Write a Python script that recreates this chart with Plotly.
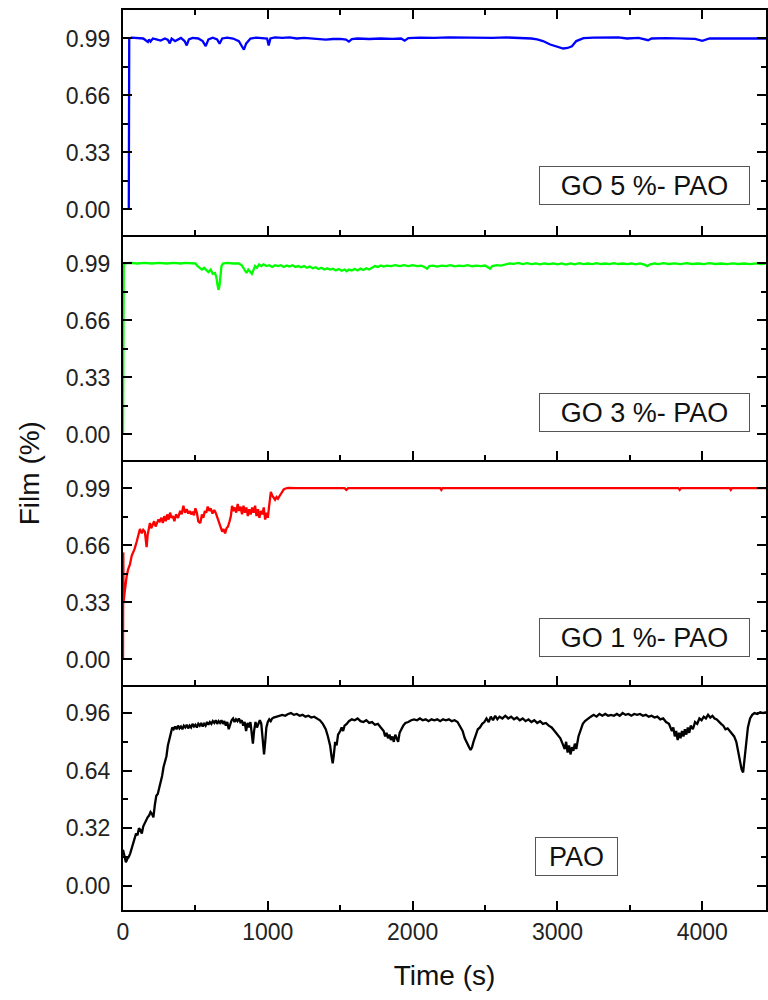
import plotly.graph_objects as go
from plotly.subplots import make_subplots

# ---------------- data ----------------
t_go5 = [40, 43, 60, 100, 140, 172, 180, 190, 206, 230, 260, 290, 310, 323, 336, 360, 400, 425, 440, 455,
         480, 520, 550, 571, 590, 620, 650, 667, 685, 720, 760, 800, 820, 835, 850, 880, 920, 960, 995, 1006,
         1018, 1050, 1100, 1150, 1200, 1250, 1300, 1350, 1400, 1450, 1500, 1540, 1560, 1580, 1620, 1700, 1780,
         1860, 1920, 1945, 1970, 2050, 2150, 2250, 2350, 2450, 2550, 2650, 2750, 2820, 2860, 2900, 2950, 3000,
         3040, 3070, 3100, 3130, 3180, 3250, 3350, 3420, 3480, 3560, 3626, 3650, 3750, 3850, 3950, 4000, 4050,
         4150, 4250, 4350, 4440]
y_go5 = [0.0, 0.99, 0.995, 0.993, 0.99, 0.97, 0.985, 0.972, 0.99, 0.985, 0.978, 0.99, 0.982, 0.962, 0.99, 0.975,
         0.993, 0.975, 0.95, 0.985, 0.993, 0.99, 0.975, 0.946, 0.985, 0.995, 0.985, 0.96, 0.99, 0.995, 0.99, 0.975,
         0.95, 0.925, 0.96, 0.99, 0.995, 0.993, 0.99, 0.95, 0.99, 0.996, 0.993, 0.996, 0.99, 0.994, 0.99, 0.986,
         0.984, 0.987, 0.988, 0.984, 0.972, 0.986, 0.99, 0.987, 0.99, 0.988, 0.99, 0.977, 0.992, 0.995, 0.993,
         0.996, 0.994, 0.996, 0.993, 0.996, 0.994, 0.99, 0.985, 0.975, 0.955, 0.94, 0.932, 0.935, 0.945, 0.975,
         0.992, 0.995, 0.993, 0.996, 0.99, 0.994, 0.98, 0.99, 0.992, 0.99, 0.988, 0.977, 0.99, 0.99, 0.99, 0.99, 0.99]

t_go3 = [0, 5, 50, 100, 150, 200, 250, 300, 350, 400, 430, 470, 500, 515, 530, 545, 560, 575, 590, 605, 620, 635,
         645, 652, 659, 666, 673, 680, 690, 720, 760, 800, 820, 840, 853, 865, 878, 890, 900, 912, 925, 940, 955,
         970, 990, 1010, 1030, 1050, 1070, 1090, 1110, 1130, 1150, 1170, 1190, 1210, 1230, 1250, 1270, 1290, 1310,
         1330, 1350, 1370, 1390, 1410, 1430, 1450, 1470, 1490, 1510, 1530, 1545, 1560, 1580, 1600, 1620, 1640,
         1660, 1680, 1700, 1720, 1740, 1760, 1780, 1800, 1820, 1850, 1880, 1910, 1940, 1970, 2000, 2030, 2060,
         2090, 2100, 2115, 2140, 2170, 2200, 2230, 2260, 2290, 2320, 2350, 2380, 2410, 2440, 2470, 2500, 2525,
         2535, 2550, 2580, 2610, 2640, 2670, 2700, 2730, 2760, 2790, 2820, 2850, 2880, 2910, 2940, 2970, 3000,
         3030, 3060, 3090, 3120, 3150, 3180, 3210, 3240, 3270, 3300, 3330, 3360, 3390, 3420, 3450, 3480, 3510,
         3540, 3570, 3600, 3620, 3640, 3670, 3700, 3730, 3770, 3810, 3850, 3890, 3930, 3970, 4010, 4050, 4090,
         4130, 4170, 4210, 4250, 4290, 4330, 4370, 4410, 4440]
y_go3 = [0.0, 0.99, 0.993, 0.99, 0.993, 0.99, 0.993, 0.99, 0.993, 0.99, 0.993, 0.99, 0.99, 0.975, 0.965, 0.955,
         0.965, 0.95, 0.94, 0.955, 0.93, 0.935, 0.91, 0.87, 0.837, 0.86, 0.93, 0.975, 0.99, 0.993, 0.99, 0.99, 0.98,
         0.95, 0.935, 0.955, 0.94, 0.93, 0.95, 0.975, 0.965, 0.985, 0.975, 0.985, 0.975, 0.98, 0.97, 0.98, 0.975,
         0.98, 0.97, 0.978, 0.972, 0.98, 0.97, 0.975, 0.968, 0.975, 0.965, 0.972, 0.962, 0.968, 0.958, 0.965,
         0.955, 0.962, 0.955, 0.96, 0.95, 0.958, 0.948, 0.955, 0.945, 0.955, 0.95, 0.958, 0.95, 0.96, 0.952,
         0.962, 0.955, 0.965, 0.975, 0.97, 0.978, 0.972, 0.978, 0.975, 0.98, 0.975, 0.98, 0.975, 0.98, 0.975,
         0.978, 0.965, 0.96, 0.975, 0.978, 0.972, 0.978, 0.975, 0.98, 0.973, 0.978, 0.975, 0.98, 0.974, 0.978,
         0.975, 0.978, 0.965, 0.96, 0.975, 0.98, 0.978, 0.985, 0.99, 0.988, 0.993, 0.987, 0.992, 0.986, 0.99,
         0.985, 0.99, 0.986, 0.99, 0.985, 0.99, 0.984, 0.99, 0.985, 0.992, 0.986, 0.99, 0.986, 0.992, 0.987,
         0.99, 0.986, 0.992, 0.987, 0.99, 0.986, 0.99, 0.985, 0.99, 0.983, 0.975, 0.985, 0.99, 0.986, 0.992,
         0.987, 0.991, 0.986, 0.992, 0.987, 0.99, 0.986, 0.992, 0.987, 0.99, 0.986, 0.991, 0.987, 0.99, 0.986,
         0.991, 0.987, 0.99, 0.99]

t_go1 = [0, 2, 4, 10, 18, 25, 35, 48, 60, 70, 80, 94, 105, 117, 130, 140, 151, 158, 163, 170, 178, 186, 195, 205,
         215, 225, 235, 245, 254, 265, 275, 285, 295, 305, 315, 325, 335, 345, 355, 366, 380, 395, 405, 417, 428,
         440, 450, 460, 470, 480, 490, 500, 510, 520, 534, 545, 555, 565, 575, 585, 595, 605, 618, 630, 640, 652,
         662, 672, 685, 695, 705, 715, 725, 736, 745, 753, 762, 772, 782, 792, 802, 812, 822, 832, 842, 852, 862,
         872, 882, 892, 902, 912, 922, 932, 942, 952, 962, 972, 982, 992, 1000, 1008, 1015, 1021, 1030, 1040, 1050,
         1060, 1070, 1080, 1090, 1100, 1110, 1122, 1140, 1200, 1300, 1400, 1530, 1542, 1555, 1700, 1900, 2100,
         2190, 2198, 2206, 2400, 2700, 3000, 3300, 3600, 3835, 3844, 3853, 4000, 4190, 4197, 4205, 4300, 4440]
y_go1 = [0.0, 0.62, 0.33, 0.38, 0.44, 0.48, 0.52, 0.55, 0.6, 0.62, 0.64, 0.68, 0.72, 0.755, 0.73, 0.75, 0.74, 0.66,
         0.65, 0.72, 0.76, 0.79, 0.76, 0.78, 0.8, 0.77, 0.79, 0.81, 0.8, 0.82, 0.79, 0.83, 0.8, 0.84, 0.81, 0.85,
         0.82, 0.83, 0.8, 0.84, 0.82, 0.86, 0.84, 0.89, 0.85, 0.87, 0.845, 0.86, 0.84, 0.855, 0.835, 0.875, 0.85,
         0.8, 0.79, 0.84, 0.82, 0.86, 0.85, 0.885, 0.86, 0.875, 0.845, 0.865, 0.85, 0.82, 0.8, 0.77, 0.74, 0.755,
         0.73, 0.76, 0.77, 0.8, 0.83, 0.89, 0.86, 0.88, 0.85, 0.9, 0.86, 0.885, 0.84, 0.89, 0.85, 0.88, 0.83, 0.87,
         0.84, 0.88, 0.85, 0.89, 0.83, 0.87, 0.82, 0.86, 0.84, 0.88, 0.81, 0.85, 0.82, 0.88, 0.94, 0.97, 0.95,
         0.94, 0.925, 0.94, 0.93, 0.945, 0.96, 0.975, 0.985, 0.99, 0.993, 0.992, 0.993, 0.992, 0.992, 0.982, 0.992,
         0.992, 0.993, 0.992, 0.992, 0.982, 0.992, 0.992, 0.993, 0.992, 0.993, 0.992, 0.992, 0.982, 0.992, 0.992,
         0.992, 0.982, 0.992, 0.992, 0.992]

t_pao = [0, 10, 20, 30, 40, 50, 60, 70, 80, 90, 100, 110, 120, 130, 140, 150, 160, 170, 180, 190, 200, 210, 220,
         230, 240, 250, 260, 270, 280, 290, 300, 310, 320, 330, 340, 350, 360, 370, 380, 390, 400, 410, 420, 430,
         440, 450, 460, 470, 480, 490, 500, 510, 520, 530, 540, 550, 560, 570, 580, 590, 600, 610, 620, 630, 640,
         650, 660, 670, 680, 690, 700, 710, 720, 730, 740, 750, 760, 770, 780, 790, 800, 810, 820, 830, 840, 850,
         860, 870, 880, 890, 897, 905, 915, 925, 935, 945, 955, 965, 974, 982, 990, 1000, 1010, 1020, 1030, 1040,
         1060, 1080, 1100, 1120, 1140, 1160, 1180, 1200, 1220, 1240, 1260, 1280, 1300, 1320, 1340, 1360, 1380,
         1400, 1415, 1430, 1440, 1448, 1455, 1465, 1475, 1485, 1500, 1510, 1520, 1530, 1545, 1560, 1580, 1600,
         1620, 1640, 1660, 1680, 1700, 1720, 1740, 1760, 1780, 1800, 1810, 1820, 1830, 1840, 1850, 1860, 1870,
         1880, 1890, 1900, 1910, 1920, 1935, 1950, 1970, 1990, 2010, 2030, 2050, 2070, 2090, 2110, 2130, 2150,
         2170, 2190, 2210, 2230, 2250, 2270, 2290, 2310, 2330, 2345, 2360, 2375, 2390, 2400, 2410, 2420, 2435,
         2450, 2465, 2480, 2495, 2510, 2525, 2540, 2555, 2570, 2585, 2600, 2620, 2640, 2660, 2680, 2700, 2720,
         2740, 2760, 2780, 2800, 2820, 2840, 2860, 2880, 2900, 2920, 2940, 2960, 2980, 3000, 3020, 3035, 3050,
         3060, 3070, 3080, 3090, 3100, 3110, 3120, 3130, 3145, 3160, 3175, 3190, 3210, 3230, 3250, 3270, 3290,
         3310, 3330, 3350, 3370, 3390, 3410, 3430, 3450, 3470, 3490, 3510, 3530, 3550, 3570, 3590, 3610, 3630,
         3650, 3670, 3690, 3710, 3730, 3750, 3770, 3790, 3800, 3810, 3820, 3830, 3840, 3850, 3860, 3870, 3880,
         3890, 3900, 3910, 3920, 3935, 3950, 3965, 3980, 3995, 4010, 4025, 4040, 4055, 4070, 4085, 4100, 4115,
         4130, 4145, 4160, 4175, 4190, 4205, 4220, 4235, 4250, 4262, 4272, 4282, 4292, 4302, 4315, 4330, 4345,
         4360, 4380, 4400, 4420, 4440]
y_pao = [0.2, 0.16, 0.13, 0.15, 0.16, 0.18, 0.21, 0.23, 0.26, 0.29, 0.28, 0.32, 0.31, 0.29, 0.33, 0.35, 0.36, 0.38,
         0.39, 0.41, 0.4, 0.38, 0.45, 0.5, 0.51, 0.54, 0.58, 0.61, 0.66, 0.69, 0.72, 0.78, 0.82, 0.86, 0.88, 0.87,
         0.885, 0.87, 0.89, 0.875, 0.885, 0.87, 0.89, 0.88, 0.895, 0.875, 0.89, 0.88, 0.9, 0.885, 0.895, 0.88, 0.9,
         0.89, 0.905, 0.885, 0.9, 0.89, 0.91, 0.895, 0.91, 0.9, 0.915, 0.905, 0.92, 0.9, 0.915, 0.905, 0.92, 0.9,
         0.915, 0.89, 0.91, 0.87, 0.9, 0.92, 0.93, 0.91, 0.925, 0.915, 0.93, 0.91, 0.92, 0.89, 0.91, 0.86, 0.905,
         0.88, 0.91, 0.84, 0.79, 0.86, 0.91, 0.88, 0.9, 0.92, 0.9, 0.82, 0.73, 0.8, 0.88, 0.91, 0.925, 0.915, 0.93,
         0.935, 0.94, 0.945, 0.95, 0.945, 0.955, 0.96, 0.95, 0.955, 0.945, 0.95, 0.94, 0.945, 0.935, 0.94, 0.93,
         0.92, 0.9, 0.87, 0.83, 0.78, 0.72, 0.68, 0.72, 0.8, 0.78, 0.84, 0.86, 0.88, 0.86, 0.89, 0.9, 0.915, 0.925,
         0.92, 0.93, 0.915, 0.91, 0.92, 0.905, 0.91, 0.895, 0.9, 0.88, 0.86, 0.83, 0.85, 0.82, 0.84, 0.81, 0.83,
         0.8, 0.84, 0.82, 0.8, 0.85, 0.87, 0.89, 0.905, 0.91, 0.92, 0.925, 0.92, 0.93, 0.92, 0.925, 0.915, 0.925,
         0.92, 0.925, 0.915, 0.925, 0.92, 0.925, 0.915, 0.92, 0.91, 0.88, 0.86, 0.82, 0.79, 0.77, 0.755, 0.77, 0.8,
         0.84, 0.87, 0.88, 0.9, 0.91, 0.93, 0.91, 0.94, 0.92, 0.945, 0.925, 0.94, 0.93, 0.945, 0.93, 0.94, 0.925,
         0.935, 0.92, 0.93, 0.915, 0.925, 0.91, 0.92, 0.905, 0.915, 0.9, 0.905, 0.89, 0.88, 0.86, 0.84, 0.82, 0.79,
         0.76, 0.8, 0.74, 0.78, 0.73, 0.77, 0.75, 0.79, 0.76, 0.83, 0.87, 0.9, 0.915, 0.93, 0.94, 0.95, 0.94, 0.955,
         0.945, 0.955, 0.945, 0.95, 0.945, 0.955, 0.945, 0.96, 0.95, 0.955, 0.945, 0.955, 0.95, 0.955, 0.945, 0.95,
         0.94, 0.945, 0.935, 0.94, 0.925, 0.93, 0.91, 0.9, 0.86, 0.88, 0.83, 0.86, 0.81, 0.85, 0.82, 0.86, 0.83,
         0.87, 0.84, 0.88, 0.85, 0.89, 0.87, 0.91, 0.9, 0.93, 0.92, 0.94, 0.93, 0.95, 0.935, 0.945, 0.93, 0.925,
         0.91, 0.9, 0.89, 0.87, 0.875, 0.86, 0.85, 0.83, 0.8, 0.74, 0.68, 0.645, 0.63, 0.7, 0.8, 0.88, 0.93, 0.95,
         0.96, 0.955, 0.965, 0.96, 0.965]

series = [
    ("GO 5 %- PAO", t_go5, y_go5, "#0000FF"),
    ("GO 3 %- PAO", t_go3, y_go3, "#00FF00"),
    ("GO 1 %- PAO", t_go1, y_go1, "#FF0000"),
    ("PAO", t_pao, y_pao, "#000000"),
]

yticks_go = [0.0, 0.33, 0.66, 0.99]
yminor_go = [0.165, 0.495, 0.825]
yticks_pao = [0.0, 0.32, 0.64, 0.96]
yminor_pao = [0.16, 0.48, 0.80]
xticks = [0, 1000, 2000, 3000, 4000]
yranges = [[-0.148, 1.155], [-0.148, 1.155], [-0.148, 1.155], [-0.135, 1.116]]
x_range = [0, 4440]

FONT = "Liberation Sans, Arial, sans-serif"

fig = make_subplots(rows=4, cols=1, shared_xaxes=True, vertical_spacing=0)

for i, (name, t, y, col) in enumerate(series, start=1):
    fig.add_trace(go.Scatter(x=t, y=y, mode="lines", line=dict(color=col, width=2.3),
                             name=name, showlegend=False), row=i, col=1)
    tv = yticks_pao if i == 4 else yticks_go
    mv = yminor_pao if i == 4 else yminor_go
    fig.update_yaxes(row=i, col=1, range=yranges[i - 1], tickvals=tv,
                     ticktext=[f"{v:.2f}" for v in tv],
                     ticks="inside", ticklen=9, tickwidth=2, tickcolor="black",
                     minor=dict(tickvals=mv, ticks="inside", ticklen=5, tickwidth=2, tickcolor="black"),
                     showline=True, linecolor="black", linewidth=2, mirror="ticks",
                     showgrid=False, zeroline=False,
                     tickfont=dict(family=FONT, size=23, color="#222"),
                     ticklabelstandoff=6)
    fig.update_xaxes(row=i, col=1, range=x_range, tickvals=xticks,
                     ticks="inside", ticklen=9, tickwidth=2, tickcolor="black",
                     minor=dict(dtick=500, tick0=0, ticks="inside", ticklen=5, tickwidth=2, tickcolor="black"),
                     showline=True, linecolor="black", linewidth=2,
                     mirror="ticks" if i == 1 else False,
                     showgrid=False, zeroline=False,
                     tickfont=dict(family=FONT, size=23, color="#222"))
    # label box
    xref = "x domain" if i == 1 else f"x{i} domain"
    yref = "y domain" if i == 1 else f"y{i} domain"
    if i < 4:
        ax, ay, w = 0.8116, [0.222, 0.213, 0.211][i - 1], 211
    else:
        ax, ay, w = 0.706, 0.238, 83
    fig.add_annotation(x=ax, y=ay, xref=xref, yref=yref, text=name, showarrow=False,
                       xanchor="center", yanchor="middle", width=w - 2, height=37,
                       font=dict(family=FONT, size=27, color="#111"),
                       bordercolor="#555", borderwidth=1, borderpad=0, bgcolor="white")

fig.update_xaxes(row=4, col=1, title=dict(text="Time (s)", font=dict(family=FONT, size=28, color="#111"),
                                          standoff=22))

fig.add_annotation(x=-0.145, y=0.485, xref="paper", yref="paper", text="Film (%)", textangle=-90,
                   showarrow=False, xanchor="center", yanchor="middle",
                   font=dict(family=FONT, size=28, color="#111"))

fig.update_layout(width=768, height=1000, margin=dict(l=123, r=0, t=10, b=90),
                  plot_bgcolor="white", paper_bgcolor="white")

fig.write_html("out.html")
